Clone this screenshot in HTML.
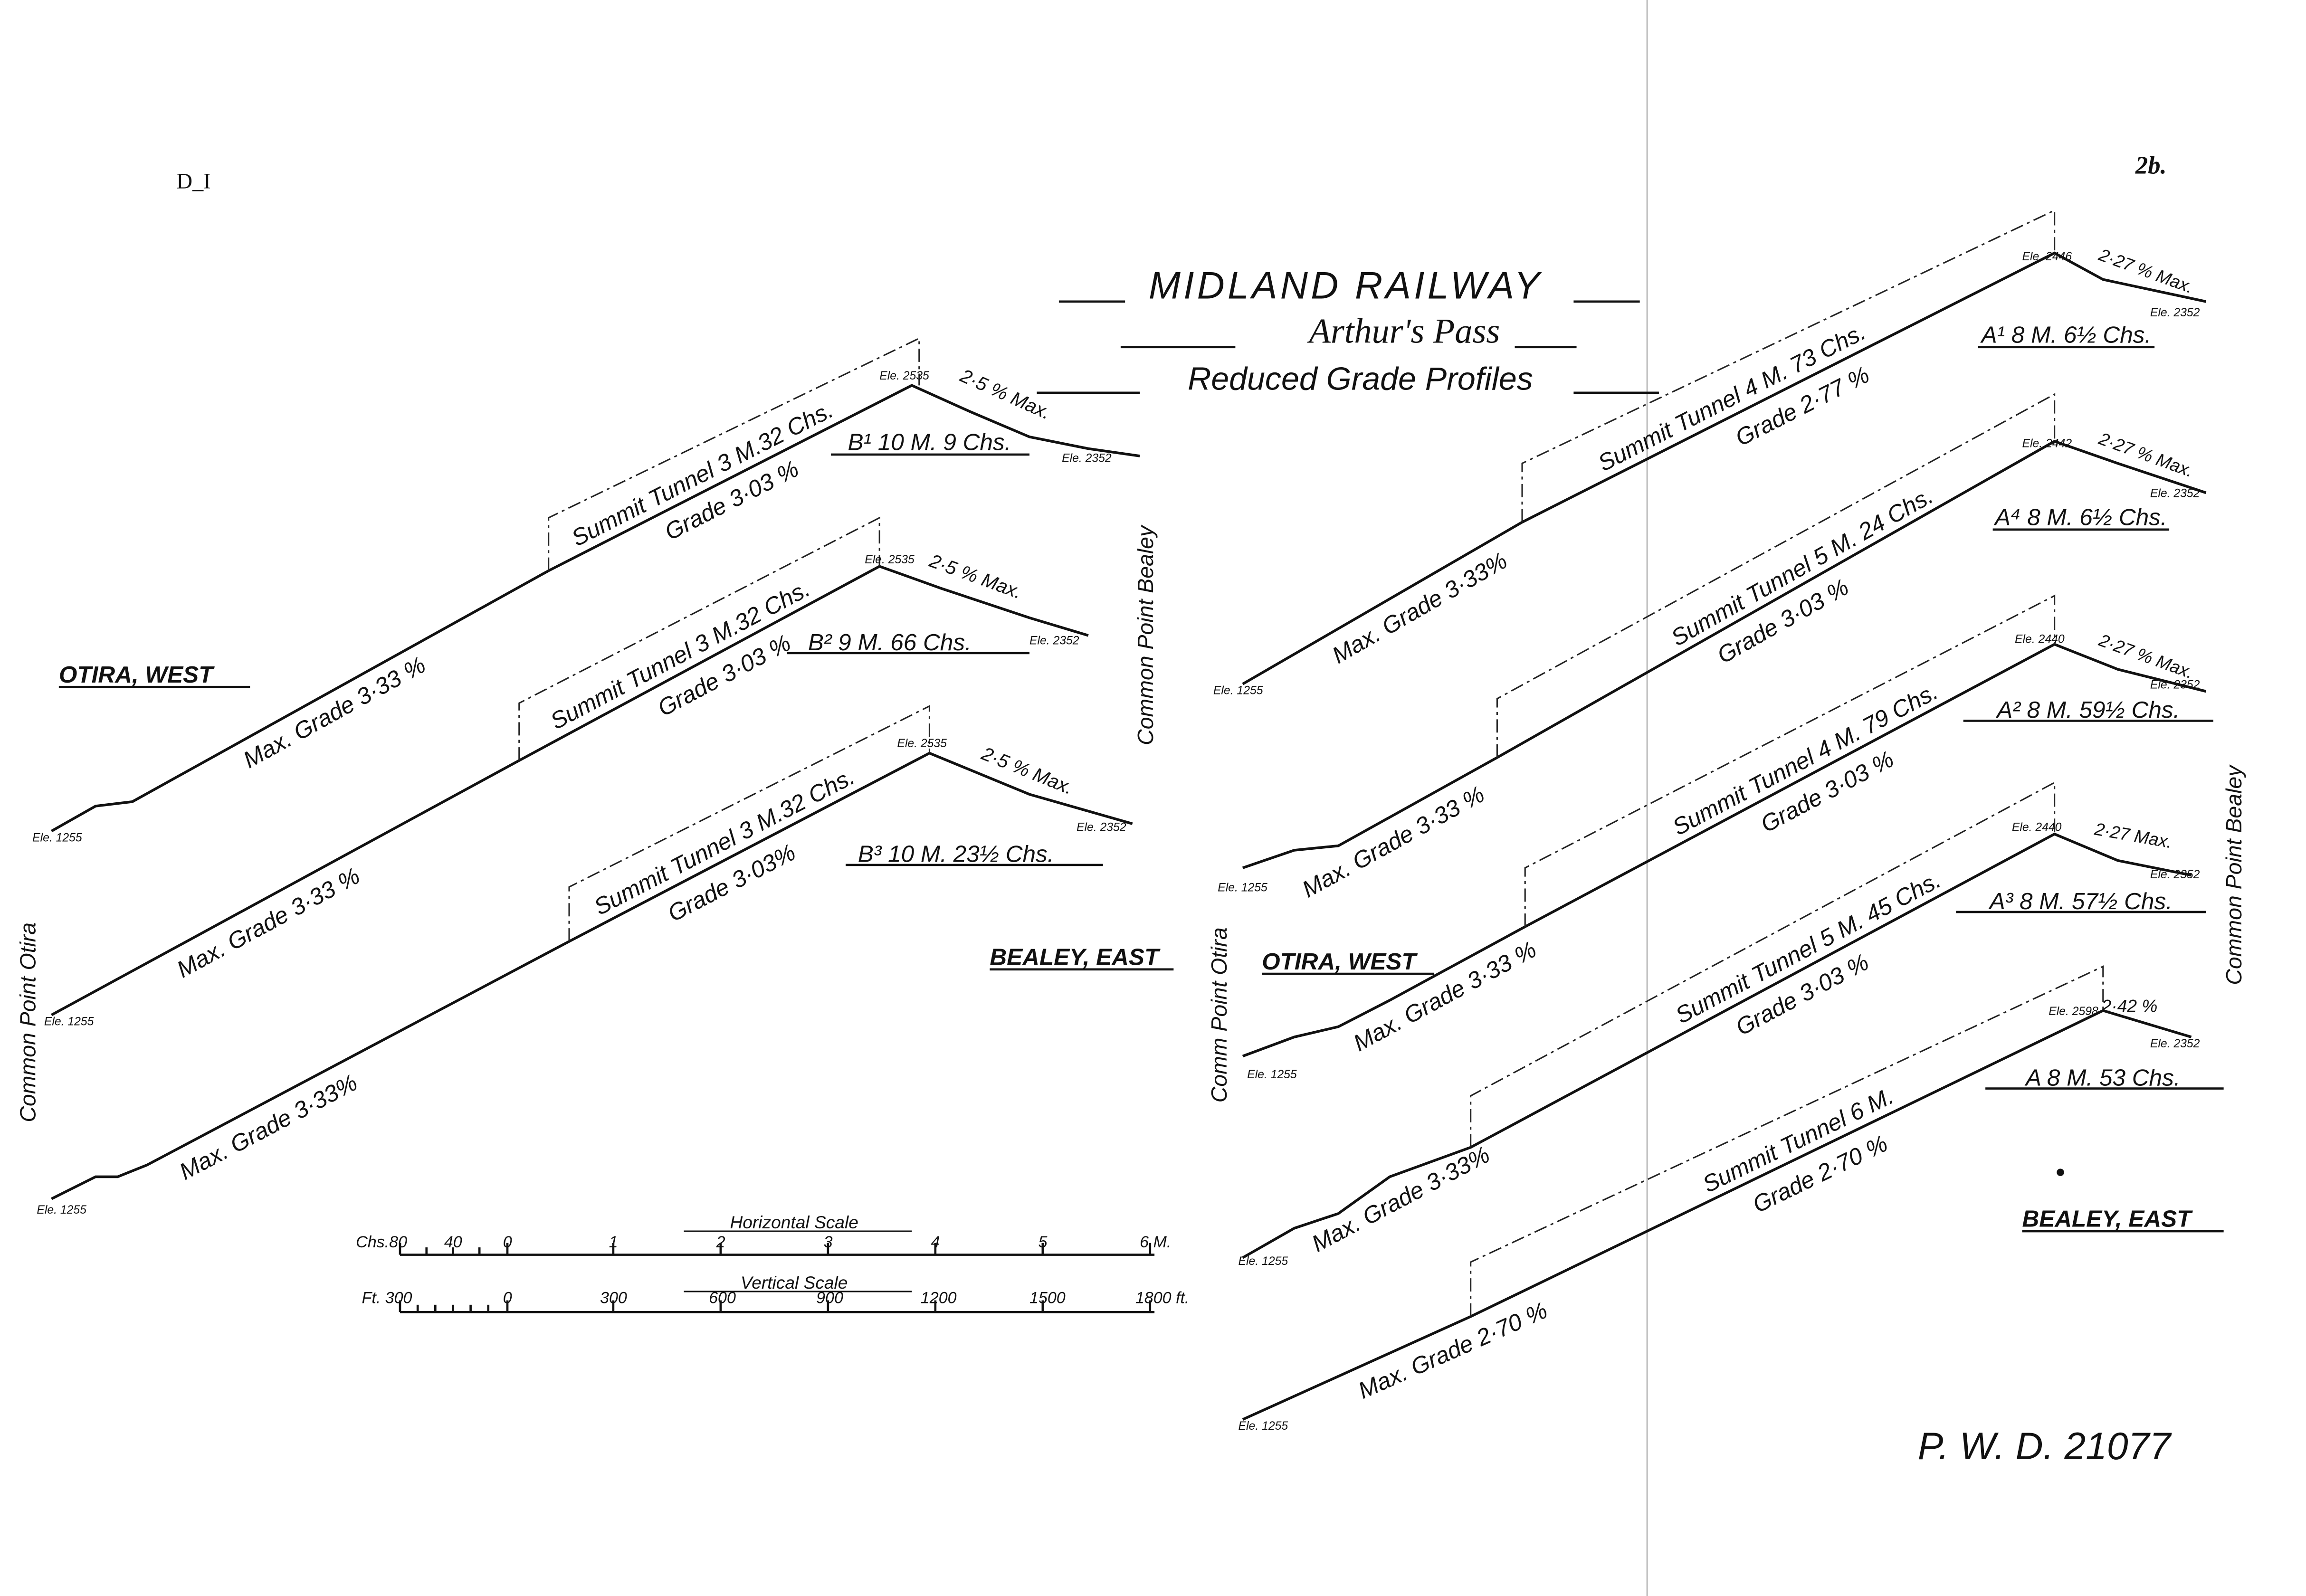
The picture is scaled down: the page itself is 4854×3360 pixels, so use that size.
<!DOCTYPE html>
<html><head><meta charset="utf-8"><style>
html,body{margin:0;padding:0;background:#fff}
svg{display:block}
text{font-family:"Liberation Sans",sans-serif;font-style:italic;fill:#111}
.p{fill:none;stroke:#111;stroke-width:1.8}
.d{fill:none;stroke:#222;stroke-width:1;stroke-dasharray:9 3 2 3}
.u{stroke:#111;stroke-width:1.5}
.s{font-size:8px}
.m{font-size:16px}
.k{font-size:13px}
.b{font-size:16px;font-weight:bold}
</style></head><body>
<svg width="4854" height="3360" viewBox="0 0 1568 1085" preserveAspectRatio="none" xmlns="http://www.w3.org/2000/svg">
<rect width="1568" height="1085" fill="#fff"/>
<line x1="1120" y1="0" x2="1120" y2="1085" stroke="#bbb" stroke-width="1"/>
<text x="120" y="128" style="font-style:normal;font-family:'Liberation Serif',serif;font-size:15px">D_I</text>
<text x="1452" y="118" style="font-family:'Liberation Serif',serif;font-size:17px;font-weight:bold">2b.</text>

<!-- Title -->
<text x="915" y="203" text-anchor="middle" style="font-size:26px;letter-spacing:2px">MIDLAND RAILWAY</text>
<line class="u" x1="720" y1="205" x2="765" y2="205"/><line class="u" x1="1070" y1="205" x2="1115" y2="205"/>
<text x="955" y="233" text-anchor="middle" style="font-family:'Liberation Serif',serif;font-size:24px">Arthur's Pass</text>
<line class="u" x1="762" y1="236" x2="840" y2="236"/><line class="u" x1="1030" y1="236" x2="1072" y2="236"/>
<text x="925" y="265" text-anchor="middle" style="font-size:22px">Reduced Grade Profiles</text>
<line class="u" x1="705" y1="267" x2="775" y2="267"/><line class="u" x1="1070" y1="267" x2="1128" y2="267"/>

<!-- LEFT B1 -->
<polyline class="p" points="35,565 65,548 90,545 373,388 620,262 660,280 700,297 740,305 775,310"/>
<polyline class="d" points="373,388 373,352 625,230 625,262"/>
<text class="m" transform="translate(480,327) rotate(-27)" text-anchor="middle">Summit Tunnel 3 M.32 Chs.</text>
<text class="m" transform="translate(500,345) rotate(-27)" text-anchor="middle">Grade 3·03 %</text>
<text class="m" transform="translate(230,489) rotate(-29)" text-anchor="middle">Max. Grade 3·33 %</text>
<text class="k" transform="translate(682,272) rotate(24)" text-anchor="middle">2·5 % Max.</text>
<text class="m" x="632" y="306" text-anchor="middle">B¹ 10 M. 9 Chs.</text>
<line class="u" x1="565" y1="309" x2="700" y2="309"/>
<text class="s" x="598" y="258">Ele. 2535</text><text class="s" x="722" y="314">Ele. 2352</text><text class="s" x="22" y="572">Ele. 1255</text>

<!-- LEFT B2 -->
<polyline class="p" points="35,690 353,517 598,385 640,400 700,420 740,432"/>
<polyline class="d" points="353,517 353,478 598,352 598,385"/>
<text class="m" transform="translate(465,450) rotate(-28)" text-anchor="middle">Summit Tunnel 3 M.32 Chs.</text>
<text class="m" transform="translate(495,464) rotate(-28)" text-anchor="middle">Grade 3·03 %</text>
<text class="m" transform="translate(185,632) rotate(-28.5)" text-anchor="middle">Max. Grade 3·33 %</text>
<text class="k" transform="translate(662,396) rotate(20)" text-anchor="middle">2·5 % Max.</text>
<text class="m" x="605" y="442" text-anchor="middle">B² 9 M. 66 Chs.</text>
<line class="u" x1="535" y1="444" x2="700" y2="444"/>
<text class="s" x="588" y="383">Ele. 2535</text><text class="s" x="700" y="438">Ele. 2352</text><text class="s" x="30" y="697">Ele. 1255</text>

<!-- LEFT B3 -->
<polyline class="p" points="35,815 65,800 80,800 100,792 387,640 632,512 700,540 770,560"/>
<polyline class="d" points="387,640 387,603 632,480 632,512"/>
<text class="m" transform="translate(495,577) rotate(-27.5)" text-anchor="middle">Summit Tunnel 3 M.32 Chs.</text>
<text class="m" transform="translate(500,605) rotate(-27.5)" text-anchor="middle">Grade 3·03%</text>
<text class="m" transform="translate(185,771) rotate(-28)" text-anchor="middle">Max. Grade 3·33%</text>
<text class="k" transform="translate(697,528) rotate(22)" text-anchor="middle">2·5 % Max.</text>
<text class="m" x="650" y="586" text-anchor="middle">B³ 10 M. 23½ Chs.</text>
<line class="u" x1="575" y1="588" x2="750" y2="588"/>
<text class="s" x="610" y="508">Ele. 2535</text><text class="s" x="732" y="565">Ele. 2352</text><text class="s" x="25" y="825">Ele. 1255</text>

<text class="b" x="40" y="464">OTIRA, WEST</text><line class="u" x1="40" y1="467" x2="170" y2="467"/>
<text class="b" x="673" y="656">BEALEY, EAST</text><line class="u" x1="673" y1="659" x2="798" y2="659"/>
<text transform="translate(24,695) rotate(-90)" text-anchor="middle" style="font-size:15px">Common Point Otira</text>
<text transform="translate(784,432) rotate(-90)" text-anchor="middle" style="font-size:15px">Common Point Bealey</text>

<!-- Scales -->
<text x="540" y="835" text-anchor="middle" style="font-size:12px">Horizontal Scale</text>
<line class="u" x1="465" y1="837" x2="620" y2="837" style="stroke-width:1"/>
<line class="u" x1="272" y1="853" x2="785" y2="853"/>
<g class="u">
<line x1="272" y1="845" x2="272" y2="853"/><line x1="290" y1="848" x2="290" y2="853"/><line x1="308" y1="848" x2="308" y2="853"/><line x1="326" y1="848" x2="326" y2="853"/>
<line x1="345" y1="845" x2="345" y2="853"/><line x1="417" y1="845" x2="417" y2="853"/><line x1="490" y1="845" x2="490" y2="853"/><line x1="563" y1="845" x2="563" y2="853"/><line x1="636" y1="845" x2="636" y2="853"/><line x1="709" y1="845" x2="709" y2="853"/><line x1="782" y1="845" x2="782" y2="853"/>
</g>
<g style="font-size:11px"><text x="242" y="848">Chs.80</text><text x="302" y="848">40</text><text x="342" y="848">0</text><text x="414" y="848">1</text><text x="487" y="848">2</text><text x="560" y="848">3</text><text x="633" y="848">4</text><text x="706" y="848">5</text><text x="775" y="848">6 M.</text></g>
<text x="540" y="876" text-anchor="middle" style="font-size:12px">Vertical Scale</text>
<line class="u" x1="465" y1="878" x2="620" y2="878" style="stroke-width:1"/>
<line class="u" x1="272" y1="892" x2="785" y2="892"/>
<g class="u">
<line x1="272" y1="884" x2="272" y2="892"/><line x1="284" y1="887" x2="284" y2="892"/><line x1="296" y1="887" x2="296" y2="892"/><line x1="308" y1="887" x2="308" y2="892"/><line x1="320" y1="887" x2="320" y2="892"/><line x1="332" y1="887" x2="332" y2="892"/>
<line x1="345" y1="884" x2="345" y2="892"/><line x1="417" y1="884" x2="417" y2="892"/><line x1="490" y1="884" x2="490" y2="892"/><line x1="563" y1="884" x2="563" y2="892"/><line x1="636" y1="884" x2="636" y2="892"/><line x1="709" y1="884" x2="709" y2="892"/><line x1="782" y1="884" x2="782" y2="892"/>
</g>
<g style="font-size:11px"><text x="246" y="886">Ft. 300</text><text x="342" y="886">0</text><text x="408" y="886">300</text><text x="482" y="886">600</text><text x="555" y="886">900</text><text x="626" y="886">1200</text><text x="700" y="886">1500</text><text x="772" y="886">1800 ft.</text></g>

<!-- RIGHT A1 -->
<polyline class="p" points="845,465 1035,355 1397,172 1430,190 1500,205"/>
<polyline class="d" points="1035,355 1035,315 1397,143 1397,172"/>
<text class="m" transform="translate(1180,275) rotate(-27)" text-anchor="middle">Summit Tunnel 4 M. 73 Chs.</text>
<text class="m" transform="translate(1228,281) rotate(-27)" text-anchor="middle">Grade 2·77 %</text>
<text class="m" transform="translate(968,418) rotate(-30)" text-anchor="middle">Max. Grade 3·33%</text>
<text class="k" transform="translate(1458,188) rotate(20)" text-anchor="middle" style="font-size:12px">2·27 % Max.</text>
<text class="m" x="1405" y="233" text-anchor="middle">A¹ 8 M. 6½ Chs.</text>
<line class="u" x1="1345" y1="236" x2="1465" y2="236"/>
<text class="s" x="1375" y="177">Ele. 2446</text><text class="s" x="1462" y="215">Ele. 2352</text><text class="s" x="825" y="472">Ele. 1255</text>

<!-- RIGHT A4 -->
<polyline class="p" points="845,590 880,578 910,575 1018,515 1397,300 1440,315 1500,335"/>
<polyline class="d" points="1018,515 1018,475 1397,268 1397,300"/>
<text class="m" transform="translate(1228,390) rotate(-29.5)" text-anchor="middle">Summit Tunnel 5 M. 24 Chs.</text>
<text class="m" transform="translate(1215,427) rotate(-29.5)" text-anchor="middle">Grade 3·03 %</text>
<text class="m" transform="translate(950,577) rotate(-29)" text-anchor="middle">Max. Grade 3·33 %</text>
<text class="k" transform="translate(1458,313) rotate(20)" text-anchor="middle" style="font-size:12px">2·27 % Max.</text>
<text class="m" x="1415" y="357" text-anchor="middle">A⁴ 8 M. 6½ Chs.</text>
<line class="u" x1="1355" y1="360" x2="1475" y2="360"/>
<text class="s" x="1375" y="304">Ele. 2442</text><text class="s" x="1462" y="338">Ele. 2352</text><text class="s" x="828" y="606">Ele. 1255</text>

<!-- RIGHT A2 -->
<polyline class="p" points="845,718 880,705 910,698 945,680 1037,630 1397,438 1440,455 1500,470"/>
<polyline class="d" points="1037,630 1037,590 1397,405 1397,438"/>
<text class="m" transform="translate(1230,521) rotate(-28)" text-anchor="middle">Summit Tunnel 4 M. 79 Chs.</text>
<text class="m" transform="translate(1245,543) rotate(-28)" text-anchor="middle">Grade 3·03 %</text>
<text class="m" transform="translate(985,682) rotate(-28.5)" text-anchor="middle">Max. Grade 3·33 %</text>
<text class="k" transform="translate(1458,450) rotate(20)" text-anchor="middle" style="font-size:12px">2·27 % Max.</text>
<text class="m" x="1420" y="488" text-anchor="middle">A² 8 M. 59½ Chs.</text>
<line class="u" x1="1335" y1="490" x2="1505" y2="490"/>
<text class="s" x="1370" y="437">Ele. 2440</text><text class="s" x="1462" y="468">Ele. 2352</text><text class="s" x="848" y="733">Ele. 1255</text>

<!-- RIGHT A3 -->
<polyline class="p" points="845,855 880,835 910,825 945,800 1000,780 1397,567 1440,585 1490,595"/>
<polyline class="d" points="1000,780 1000,745 1397,532 1397,567"/>
<text class="m" transform="translate(1232,649) rotate(-28)" text-anchor="middle">Summit Tunnel 5 M. 45 Chs.</text>
<text class="m" transform="translate(1228,681) rotate(-28)" text-anchor="middle">Grade 3·03 %</text>
<text class="m" transform="translate(955,820) rotate(-28)" text-anchor="middle">Max. Grade 3·33%</text>
<text class="k" transform="translate(1450,572) rotate(10)" text-anchor="middle" style="font-size:12px">2·27 Max.</text>
<text class="m" x="1415" y="618" text-anchor="middle">A³ 8 M. 57½ Chs.</text>
<line class="u" x1="1330" y1="620" x2="1500" y2="620"/>
<text class="s" x="1368" y="565">Ele. 2440</text><text class="s" x="1462" y="597">Ele. 2352</text><text class="s" x="842" y="860">Ele. 1255</text>

<!-- RIGHT A -->
<polyline class="p" points="845,965 1000,895 1430,687 1490,705"/>
<polyline class="d" points="1000,895 1000,858 1430,657 1430,687"/>
<text class="m" transform="translate(1225,780) rotate(-26)" text-anchor="middle">Summit Tunnel 6 M.</text>
<text class="m" transform="translate(1240,803) rotate(-26)" text-anchor="middle">Grade 2·70 %</text>
<text class="m" transform="translate(990,923) rotate(-24)" text-anchor="middle">Max. Grade 2·70 %</text>
<text class="k" x="1448" y="688" text-anchor="middle" style="font-size:12px">2·42 %</text>
<text class="m" x="1430" y="738" text-anchor="middle">A 8 M. 53 Chs.</text>
<line class="u" x1="1350" y1="740" x2="1512" y2="740"/>
<text class="s" x="1393" y="690">Ele. 2598</text><text class="s" x="1462" y="712">Ele. 2352</text><text class="s" x="842" y="972">Ele. 1255</text>

<text class="b" x="858" y="659">OTIRA, WEST</text><line class="u" x1="858" y1="662" x2="975" y2="662"/>
<text class="b" x="1375" y="834">BEALEY, EAST</text><line class="u" x1="1375" y1="837" x2="1512" y2="837"/>
<text transform="translate(834,690) rotate(-90)" text-anchor="middle" style="font-size:15px">Comm Point Otira</text>
<text transform="translate(1524,595) rotate(-90)" text-anchor="middle" style="font-size:15px">Common Point Bealey</text>
<text x="1390" y="992" text-anchor="middle" style="font-size:26px">P. W. D. 21077</text>
<circle cx="1401" cy="797" r="2.5" fill="#111"/>
</svg>
</body></html>
